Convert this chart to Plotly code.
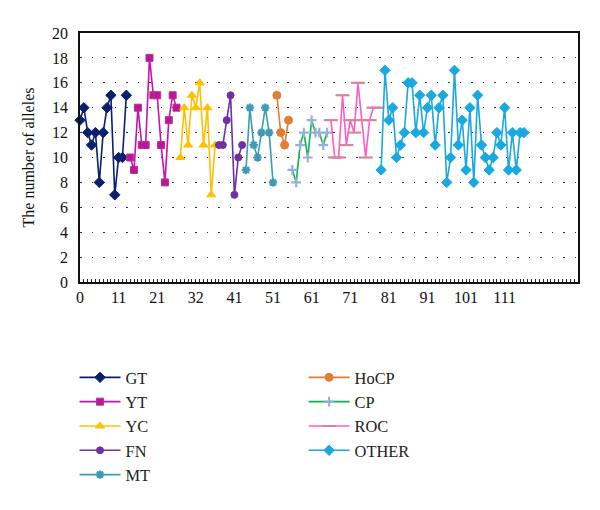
import plotly.graph_objects as go

# ---- data ----
GT = [13, 14, 12, 11, 12, 8, 12, 14, 15, 7, 10, 10, 15]
YT = [10, 9, 14, 11, 11, 18, 15, 15, 11, 8, 13, 15, 14]
YC = [10, 14, 11, 15, 14, 16, 11, 14, 7, 11]
FN = [11, 11, 13, 15, 7, 10, 11]
MT = [9, 14, 11, 10, 12, 14, 12, 8]
HoCP = [15, 12, 11, 13]
CP = [9, 8, 11, 12, 10, 13, 12, 12, 11, 12]
ROC = [13, 10, 10, 15, 11, 13, 12, 16, 13, 10, 13, 14, 14]
OTHER = [9, 17, 13, 14, 10, 11, 12, 16, 16, 12, 15, 12, 14, 15, 11, 14, 15, 8, 10,
         17, 11, 13, 9, 14, 8, 15, 11, 10, 9, 10, 12, 11, 14, 9, 12, 9, 12, 12]

x_tick_labels = ["0", "11", "21", "32", "41", "51", "61", "71", "81", "91", "101", "111"]
n_categories = 130

series = [
    ("GT", GT, dict(line="#0B1F6B", mk="#0B1F6B", border="#0B1F6B", sym="diamond", size=8), "legend"),
    ("YT", YT, dict(line="#CC10B0", mk="#C010A8", border="#A8406E", sym="square", size=7), "legend"),
    ("YC", YC, dict(line="#FFC000", mk="#FFC000", border="#FFC000", sym="triangle-up", size=8), "legend"),
    ("FN", FN, dict(line="#7030A0", mk="#7030A0", border="#7030A0", sym="circle", size=7), "legend"),
    ("MT", MT, dict(line="#3F9BB5", mk="#3F9BB5", border="#3F9BB5", sym="asterisk-open", size=7), "legend"),
    ("HoCP", HoCP, dict(line="#E07E35", mk="#E07E35", border="#E07E35", sym="circle", size=8), "legend2"),
    ("CP", CP, dict(line="#10B050", mk="#95B3D7", border="#95B3D7", sym="cross-thin-open", size=7), "legend2"),
    ("ROC", ROC, dict(line="#FF5CC8", mk="#D98595", border="#D98595", sym="line-ew-open", size=10), "legend2"),
    ("OTHER", OTHER, dict(line="#1AA8E0", mk="#1AA8E0", border="#1AA8E0", sym="diamond", size=8), "legend2"),
]

fig = go.Figure()
start = 0
for name, vals, st, leg in series:
    xs = list(range(start, start + len(vals)))
    start += len(vals)
    open_sym = st["sym"].endswith("open")
    fig.add_trace(go.Scatter(
        x=xs, y=vals, name=name, mode="lines+markers",
        line=dict(color=st["line"], width=1.6),
        marker=dict(symbol=st["sym"], size=st["size"], color=st["mk"],
                    line=dict(color=st["border"], width=2.2 if open_sym else 1)),
        cliponaxis=False, legend=leg,
    ))

serif = "Liberation Serif, Times New Roman, serif"
fig.update_layout(
    width=600, height=510,
    margin=dict(l=72, r=30, t=24.5, b=235.5, autoexpand=False),
    paper_bgcolor="white", plot_bgcolor="white",
    font=dict(family=serif, size=16, color="#111"),
    xaxis=dict(
        range=[0, n_categories - 1],
        tickmode="array",
        tickvals=[i * 10 for i in range(len(x_tick_labels))],
        ticktext=x_tick_labels,
        ticks="inside", ticklen=3, tickcolor="#222",
        minor=dict(ticks="inside", ticklen=3, tickcolor="#222", tickmode="linear", tick0=0, dtick=1),
        showgrid=False, zeroline=False,
        showline=True, linecolor="#111", linewidth=1.6, mirror=True,
        tickfont=dict(family=serif, size=16),
    ),
    yaxis=dict(
        range=[0, 20], dtick=2,
        title=dict(text="The number of alleles", font=dict(family=serif, size=16), standoff=13),
        showgrid=True, gridcolor="#333", gridwidth=1.2, griddash="1.5px,10px",
        zeroline=False,
        showline=True, linecolor="#111", linewidth=1.6, mirror=True,
        ticks="", ticklabelstandoff=7,
        tickfont=dict(family=serif, size=16),
    ),
    legend=dict(x=-0.011, y=-0.314, xanchor="left", yanchor="top",
                font=dict(family=serif, size=16.4, color="#222"),
                itemwidth=41, bgcolor="rgba(0,0,0,0)", tracegroupgap=0),
    legend2=dict(x=0.449, y=-0.314, xanchor="left", yanchor="top",
                 font=dict(family=serif, size=16.4, color="#222"),
                 itemwidth=41, bgcolor="rgba(0,0,0,0)", tracegroupgap=0),
)

fig.write_html("out.html")
